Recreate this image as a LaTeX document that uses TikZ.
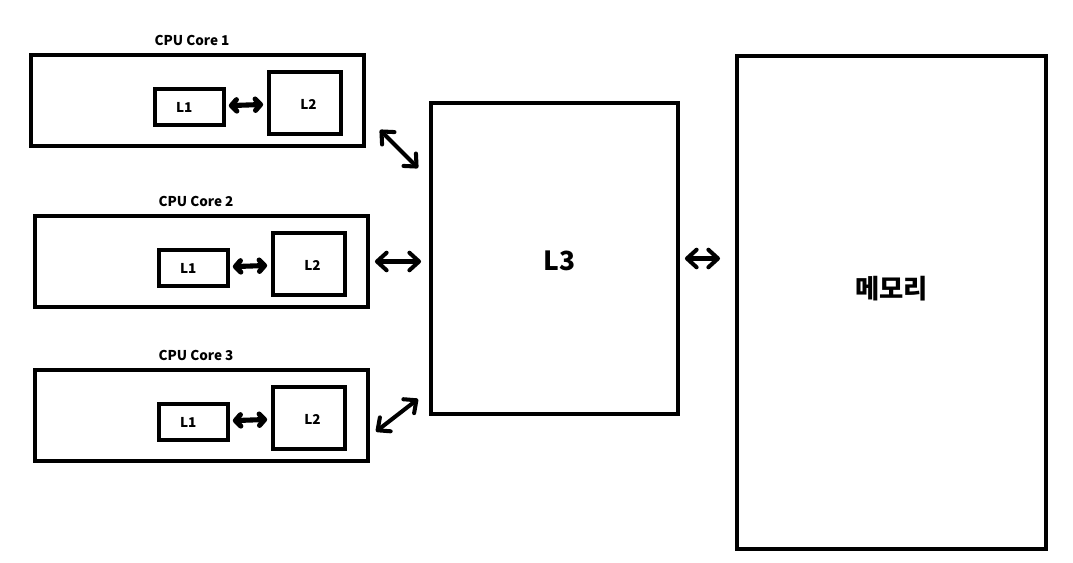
\documentclass[tikz,border=0pt]{standalone}
\usepackage{fontspec}
\setmainfont{Noto Sans CJK KR}
\usetikzlibrary{arrows.meta,calc,fit}
\tikzset{
  pxgrid/.style  ={x=0.02cm,y=-0.02cm},
  boxline/.style ={draw=black,line width=2.3pt},
  outbox/.style  ={boxline,inner sep=0pt},
  smalllab/.style={inner sep=0pt,font=\bfseries\fontsize{7.7}{9}\selectfont},
  corelab/.style ={inner sep=1pt,font=\bfseries\fontsize{7.7}{9}\selectfont},
  biglab/.style  ={inner sep=0pt,font=\bfseries\fontsize{15}{18}\selectfont},
  busarr/.style  ={line width=2.3pt,line cap=round,{Straight Barb[length=5.5pt,width=10pt,round]}-{Straight Barb[length=5.5pt,width=10pt,round]}},
  linkarr/.style ={line width=2.9pt,line cap=round,{Straight Barb[length=3pt,width=6.5pt,round]}-{Straight Barb[length=3pt,width=6.5pt,round]},shorten <=1.6pt,shorten >=2.2pt},
}
% one core: name, left x, top y, number
\newcommand{\cpucore}[4]{%
  \node[outbox,fit={(#2,#3) (#2+333,#3+91)}] (#1) {};
  \node[corelab] (#1t) at (#2+161,#3-15) {CPU Core #4};
  \node[outbox,fit={(#2+124,#3+34) (#2+193,#3+70)},
        label={[smalllab,xshift=-3pt,yshift=-0.5pt]center:L1}] (#1a) {};
  \node[outbox,fit={(#2+238,#3+17) (#2+310,#3+79)},
        label={[smalllab,xshift=2pt,yshift=-1pt]center:L2}] (#1b) {};
  \draw[linkarr] (#1a) -- (#1b);
}

\begin{document}
\begin{tikzpicture}[pxgrid]
  \useasboundingbox (0,0) rectangle (1073,562);
  \cpucore{C1}{31}{55}{1}
  \cpucore{C2}{35}{216}{2}
  \cpucore{C3}{35}{370}{3}
  \node[outbox,fit={(431,103) (678,414)},
        label={[biglab,xshift=3pt,yshift=-1.5pt]center:L3}] (L3) {};
  \node[outbox,fit={(737,56) (1046,549)},
        label={[biglab,yshift=8pt]center:메모리}] (M) {};
  % links to the shared cache
  \draw[busarr] ($(C1.south east)+(14,-18)$) -- ($(L3.north west)+(-11,67)$);
  \draw[busarr,shorten <=2.8pt,shorten >=4.5pt] (C2.east) -- (C2.east -| L3.west);
  \draw[busarr] ($(C3.east)+(6,16)$) -- ($(L3.south west)+(-11,-17)$);
  \draw[busarr,shorten <=2.8pt,shorten >=8.5pt] (L3.east) -- (L3.east -| M.west);
\end{tikzpicture}
\end{document}
